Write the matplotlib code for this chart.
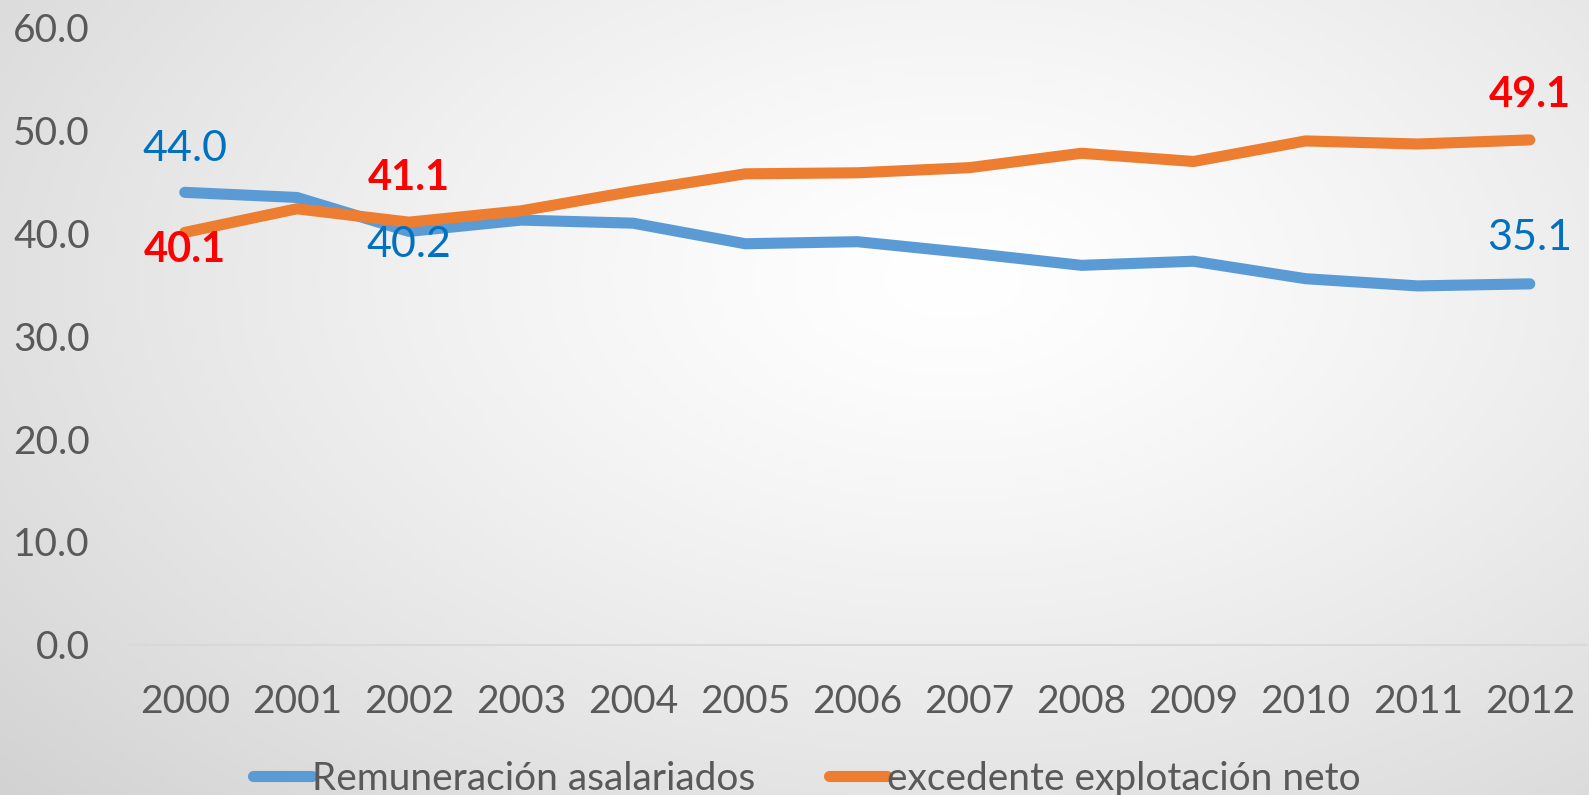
import numpy as np
import matplotlib.pyplot as plt

# Data
years = ['2000', '2001', '2002', '2003', '2004', '2005', '2006',
         '2007', '2008', '2009', '2010', '2011', '2012']
remuneracion = [44.0, 43.5, 40.2, 41.3, 41.0, 39.0, 39.2, 38.1, 36.9, 37.3, 35.6, 34.9, 35.1]
excedente = [40.1, 42.4, 41.1, 42.2, 44.1, 45.8, 45.9, 46.4, 47.8, 47.0, 49.0, 48.7, 49.1]
yticks = [0, 10, 20, 30, 40, 50, 60]

blue = '#5B9BD5'
orange = '#ED7D31'
gray = '#595959'

plt.rcParams['font.family'] = ['Lato', 'DejaVu Sans']

fig = plt.figure(figsize=(15.89, 7.95), dpi=100)

# radial gradient background
bg = fig.add_axes([0, 0, 1, 1], zorder=-10)
gx, gy = np.meshgrid(np.linspace(0, 1, 400), np.linspace(0, 1, 200))
r = np.sqrt(((gx - 0.6) / 0.75) ** 2 + ((gy - 0.35) / 0.9) ** 2)
shade = np.clip(1.0 - 0.16 * r ** 1.3, 0.82, 1.0)
bg.imshow(np.dstack([shade, shade, shade]), extent=[0, 1, 0, 1], aspect='auto', origin='upper')
bg.axis('off')

ax = fig.add_axes([0.081, 0.189, 0.917, 0.776])
ax.set_facecolor('none')
x = np.arange(len(years))
ax.plot(x, remuneracion, color=blue, lw=8, solid_capstyle='round', solid_joinstyle='round',
        label='Remuneración asalariados')
ax.plot(x, excedente, color=orange, lw=8, solid_capstyle='round', solid_joinstyle='round',
        label='excedente explotación neto')

ax.set_xlim(-0.5, len(years) - 0.5)
ax.set_ylim(0, 60)
ax.set_xticks(x)
ax.set_xticklabels(years)
ax.set_yticks(yticks)
ax.set_yticklabels([f'{v:.1f}' for v in yticks])
ax.tick_params(axis='both', length=0, labelsize=28, colors=gray)
ax.tick_params(axis='x', pad=28)
ax.tick_params(axis='y', pad=28)
for s in ['top', 'right', 'left']:
    ax.spines[s].set_visible(False)
ax.spines['bottom'].set_color('#D9D9D9')
ax.spines['bottom'].set_linewidth(1.5)

# data labels (offsets in points)
blue_labels = [(0, 31), (2, -10), (12, 33)]
orange_labels = [(0, -13), (2, 32), (12, 32)]
for i, dy in blue_labels:
    ax.annotate(f'{remuneracion[i]:.1f}', (x[i], remuneracion[i]), xytext=(0, dy),
                textcoords='offset points', ha='center', va='center',
                fontsize=31, color='#0070C0')
for i, dy in orange_labels:
    ax.annotate(f'{excedente[i]:.1f}', (x[i], excedente[i]), xytext=(0, dy),
                textcoords='offset points', ha='center', va='center',
                fontsize=30, color='#FF0000', fontweight='bold')

fig.legend(loc='center', bbox_to_anchor=(0.508, 0.02), ncol=2, frameon=False,
           fontsize=28, labelcolor=gray, handlelength=1.5, handletextpad=0.0,
           columnspacing=1.9)

fig.savefig('out.png', dpi=100)
